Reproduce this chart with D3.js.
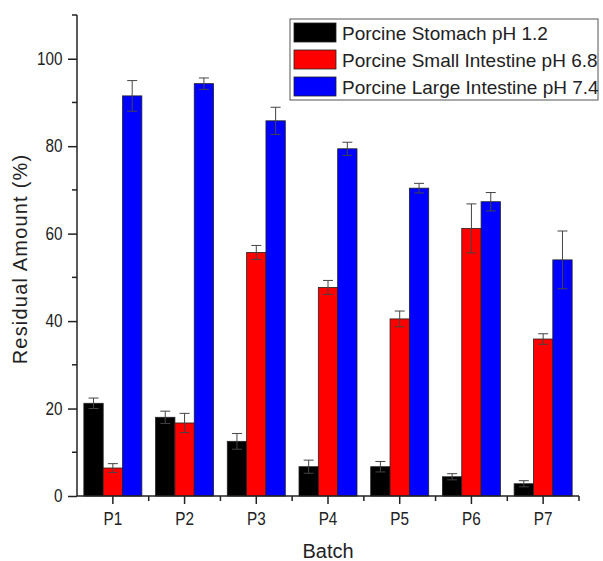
<!DOCTYPE html>
<html lang="en">
    <head>
        <meta charset="utf-8">
        <title>Residual amount by batch</title>
        <script type="text/javascript" src="https://cdn.jsdelivr.net/npm/d3@7/dist/d3.min.js"></script>
        <style type="text/css">
           body { margin: 0; background: #fff; }
           text {
               font-family: "Liberation Sans", Arial, sans-serif;
               fill: #222;
           }
           .tick text {
               font-family: "Liberation Sans", Arial, sans-serif;
               font-size: 18px;
               fill: #222;
           }
        </style>
    </head>
    <body>
        <script type="text/javascript">

              var w = 603;
              var h = 561;

              var batches = ["P1", "P2", "P3", "P4", "P5", "P6", "P7"];
              var seriesNames = ["Porcine Stomach pH 1.2", "Porcine Small Intestine pH 6.8", "Porcine Large Intestine pH 7.4"];
              var seriesColors = ["#000000", "#ff0000", "#0000ff"];

              var stomach      = [21.2, 18.0, 12.5, 6.7, 6.7, 4.4, 2.8];
              var stomachErr   = [1.2, 1.4, 1.8, 1.5, 1.2, 0.7, 0.7];
              var small        = [6.4, 16.7, 55.7, 47.7, 40.5, 61.2, 35.9];
              var smallErr     = [1.0, 2.2, 1.6, 1.6, 1.8, 5.6, 1.2];
              var large        = [91.5, 94.3, 85.8, 79.4, 70.4, 67.3, 54.0];
              var largeErr     = [3.5, 1.3, 3.1, 1.5, 1.1, 2.1, 6.6];

              var yTicks = [0, 20, 40, 60, 80, 100];
              var yMinor = [10, 30, 50, 70, 90, 110];

              var values = [stomach, small, large];
              var errors = [stomachErr, smallErr, largeErr];

              var pLeft = 77, pRight = 579, pTop = 15, pBottom = 496;
              var squeeze = 0.85;   // tick labels in the original are a bit condensed

              var x = d3.scaleBand()
                        .domain(batches)
                        .range([pLeft, pRight]);

              var xInner = d3.scaleBand()
                        .domain(d3.range(3))
                        .range([0, 58])
                        .padding(0);

              var y = d3.scaleLinear()
                        .domain([0, 110])
                        .range([pBottom, pTop]);

              var svg = d3.select("body")
                          .append("svg")
                          .attr("width", w)
                          .attr("height", h);

              // flat list of bars
              var bars = [];
              batches.forEach(function(b, i) {
                  for (var s = 0; s < 3; s++) {
                      bars.push({ batch: b, s: s, v: values[s][i], e: errors[s][i] });
                  }
              });

              var groupOffset = (x.bandwidth() - 58) / 2;

              svg.selectAll("rect.bar")
                 .data(bars)
                 .enter()
                 .append("rect")
                 .attr("class", "bar")
                 .attr("x", function(d) { return x(d.batch) + groupOffset + xInner(d.s); })
                 .attr("y", function(d) { return y(d.v); })
                 .attr("width", xInner.bandwidth())
                 .attr("height", function(d) { return y(0) - y(d.v); })
                 .attr("fill", function(d) { return seriesColors[d.s]; })
                 .attr("stroke", "#222")
                 .attr("stroke-width", 0.8);

              // error bars
              var eb = svg.selectAll("g.err")
                          .data(bars)
                          .enter()
                          .append("g")
                          .attr("class", "err")
                          .attr("stroke", "#444")
                          .attr("stroke-width", 1)
                          .attr("transform", function(d) {
                              return "translate(" + (x(d.batch) + groupOffset + xInner(d.s) + xInner.bandwidth() / 2) + ",0)";
                          });

              eb.append("line")
                .attr("x1", 0).attr("x2", 0)
                .attr("y1", function(d) { return y(d.v - d.e); })
                .attr("y2", function(d) { return y(d.v + d.e); });

              eb.append("line")
                .attr("x1", -5).attr("x2", 5)
                .attr("y1", function(d) { return y(d.v + d.e); })
                .attr("y2", function(d) { return y(d.v + d.e); });

              eb.append("line")
                .attr("x1", -5).attr("x2", 5)
                .attr("y1", function(d) { return y(d.v - d.e); })
                .attr("y2", function(d) { return y(d.v - d.e); });

              // y axis
              var yAxis = svg.append("g")
                             .attr("transform", "translate(" + pLeft + ",0)")
                             .call(d3.axisLeft(y).tickValues(yTicks).tickSize(9).tickPadding(5).tickSizeOuter(0));
              yAxis.select(".domain").attr("stroke", "#222").attr("stroke-width", 1.5).attr("d", "M0," + pTop + "V" + pBottom);
              yAxis.selectAll(".tick line").attr("stroke", "#222").attr("stroke-width", 1.5);
              yAxis.selectAll(".tick text")
                   .attr("x", -14.5 / squeeze)
                   .attr("transform", "scale(" + squeeze + ",1)");

              svg.append("g")
                 .selectAll("line")
                 .data(yMinor)
                 .enter()
                 .append("line")
                 .attr("x1", pLeft - 5).attr("x2", pLeft)
                 .attr("y1", function(d) { return y(d); })
                 .attr("y2", function(d) { return y(d); })
                 .attr("stroke", "#222")
                 .attr("stroke-width", 1.5);

              // x axis
              var xAxis = svg.append("g")
                             .attr("transform", "translate(0," + pBottom + ")")
                             .call(d3.axisBottom(x).tickSize(8).tickPadding(8).tickSizeOuter(0));
              xAxis.select(".domain").attr("stroke", "#222").attr("stroke-width", 1.5).attr("d", "M" + pLeft + ",0H" + pRight);
              xAxis.selectAll(".tick line").attr("stroke", "#222").attr("stroke-width", 1.5);
              xAxis.selectAll(".tick text")
                   .attr("transform", "scale(" + squeeze + ",1)");

              svg.append("g")
                 .selectAll("line")
                 .data(batches.slice(1).concat(["end"]))
                 .enter()
                 .append("line")
                 .attr("x1", function(d) { return d === "end" ? pRight : x(d); })
                 .attr("x2", function(d) { return d === "end" ? pRight : x(d); })
                 .attr("y1", pBottom).attr("y2", pBottom + 5)
                 .attr("stroke", "#222")
                 .attr("stroke-width", 1.5);

              // axis titles
              svg.append("text")
                 .attr("x", (pLeft + pRight) / 2)
                 .attr("y", 558)
                 .attr("text-anchor", "middle")
                 .attr("font-size", 20)
                 .text("Batch");

              svg.append("text")
                 .attr("transform", "translate(27,259) rotate(-90)")
                 .attr("text-anchor", "middle")
                 .attr("font-size", 20)
                 .attr("letter-spacing", 1.2)
                 .text("Residual Amount (%)");

              // legend
              var legend = svg.append("g").attr("transform", "translate(290,19)");
              legend.append("rect")
                    .attr("width", 308).attr("height", 81)
                    .attr("fill", "#fff")
                    .attr("stroke", "#555")
                    .attr("stroke-width", 1);

              var items = legend.selectAll("g.item")
                                .data(seriesNames)
                                .enter()
                                .append("g")
                                .attr("class", "item")
                                .attr("transform", function(d, i) { return "translate(4," + (4 + i * 27) + ")"; });

              items.append("rect")
                   .attr("width", 42).attr("height", 19)
                   .attr("fill", function(d, i) { return seriesColors[i]; })
                   .attr("stroke", "#222")
                   .attr("stroke-width", 0.8);

              items.append("text")
                   .attr("x", 48)
                   .attr("y", 17)
                   .attr("font-size", 19)
                   .text(function(d) { return d; });

        </script>
    </body>
</html>
